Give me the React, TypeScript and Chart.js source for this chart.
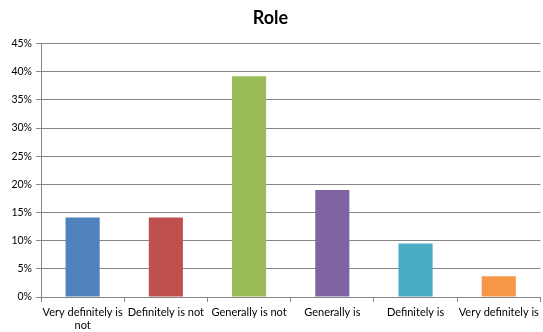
import React, { useEffect, useRef } from "react";
import { Chart, registerables } from "chart.js";

Chart.register(...registerables);

const categories: (string | string[])[] = [
  ["Very definitely is", "not"],
  "Definitely is not",
  "Generally is not",
  "Generally is",
  "Definitely is",
  "Very definitely is",
];
const shares = [14.1, 14.1, 39.2, 19.0, 9.5, 3.7];
const barColors = ["#4F81BD", "#C0504D", "#9BBB59", "#8064A2", "#4BACC6", "#F79646"];
const yTicks = [0, 5, 10, 15, 20, 25, 30, 35, 40, 45];

const FONT = "Lato, 'Liberation Sans', sans-serif";

export default function App() {
  const ref = useRef<HTMLCanvasElement | null>(null);

  useEffect(() => {
    document.body.style.margin = "0";
    if (!ref.current) return;
    const chart = new Chart(ref.current, {
      type: "bar",
      data: {
        labels: categories,
        datasets: [
          {
            data: shares,
            backgroundColor: barColors,
            borderWidth: 0,
            barPercentage: 0.41,
            categoryPercentage: 1,
          },
        ],
      },
      options: {
        animation: false,
        responsive: true,
        maintainAspectRatio: false,
        layout: { padding: { left: 0, right: 2, top: 0, bottom: 0 } },
        plugins: {
          legend: { display: false },
          tooltip: { enabled: false },
          title: {
            display: true,
            text: "Role",
            color: "#000",
            font: { family: FONT, size: 18, weight: "bold" },
            padding: { top: 7, bottom: 15 },
          },
        },
        scales: {
          x: {
            offset: true,
            grid: {
              offset: true,
              drawOnChartArea: false,
              drawTicks: true,
              tickLength: 5,
              color: "#868686",
            },
            border: { color: "#868686", width: 1 },
            ticks: {
              color: "#000",
              font: { family: FONT, size: 11 },
              maxRotation: 0,
              autoSkip: false,
              padding: 4,
            },
            afterFit: (s: any) => {
              s.height = 35;
            },
          },
          y: {
            min: 0,
            max: 45,
            afterBuildTicks: (s: any) => {
              s.ticks = yTicks.map((v) => ({ value: v }));
            },
            grid: {
              color: "#868686",
              lineWidth: 1,
              tickLength: 5,
            },
            border: { color: "#868686", width: 1 },
            ticks: {
              color: "#000",
              font: { family: FONT, size: 10.5 },
              padding: 4,
              callback: (v: any) => `${v}%`,
            },
            afterFit: (s: any) => {
              s.width = 41;
            },
          },
        },
      },
    });
    return () => chart.destroy();
  }, []);

  return (
    <div style={{ position: "absolute", left: 0, top: 0, width: 543, height: 332, background: "#fff" }}>
      <canvas ref={ref} />
    </div>
  );
}
